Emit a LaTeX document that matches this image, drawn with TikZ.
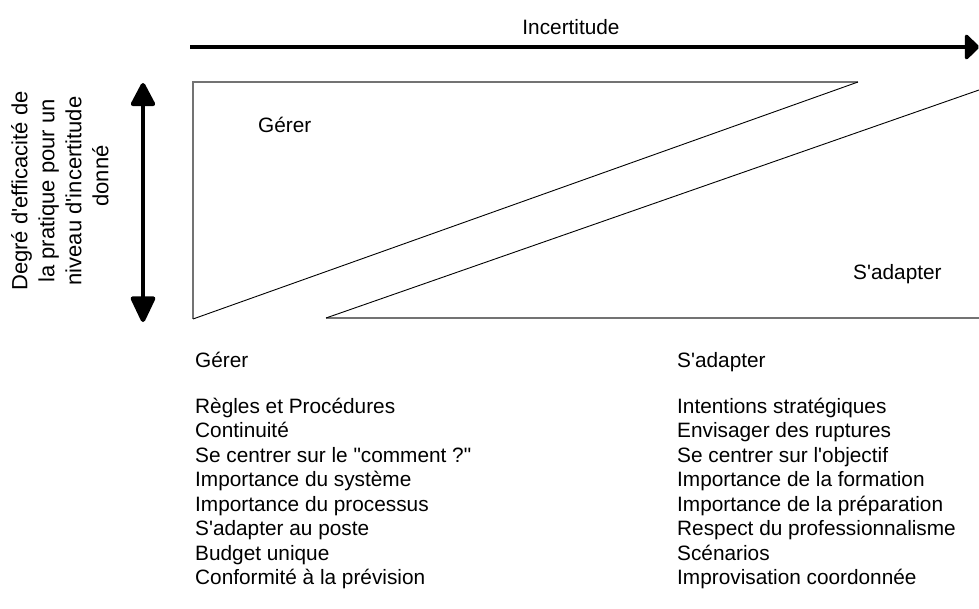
\documentclass[tikz,border=0pt]{standalone}
\usepackage{fontspec}
\setmainfont{Liberation Sans}[Ligatures=TeXOff]
\usetikzlibrary{positioning,arrows.meta}

\begin{document}
\begin{tikzpicture}[x=1pt,y=-1pt,
				txt/.style={font=\fontsize{20.8}{24}\selectfont,inner sep=0pt,anchor=base west},
				edge/.style={draw=black!55,line width=1.3pt},
				slope/.style={draw=black,line width=0.9pt},
				axis/.style={line width=3.6pt}]
				\useasboundingbox (0,0) rectangle (979,608);
				% axes
				\coordinate (IncStart) at (190,47);
				\coordinate (IncEnd) at (979,47);
				\draw[axis,-{Triangle[length=15pt,width=29pt,round]}] (IncStart) -- (IncEnd);
				\node[txt,anchor=base] (Incertitude) at (571,34) {Incertitude};
				\coordinate (EffTop) at (143,83);
				\coordinate (EffBottom) at (143,322);
				\draw[axis,line width=4.5pt,{Triangle[length=26pt,width=26pt,round]}-{Triangle[length=29pt,width=26pt,round]}] (EffTop) -- (EffBottom);
				\node[font=\fontsize{22}{27}\selectfont,align=center,rotate=90,inner sep=0pt] (Efficacite) at (60,191)
				  {Degré d'efficacité de\\la pratique pour un\\niveau d'incertitude\\\hspace*{30pt}donné};
				% triangles
				\coordinate (GTop) at (193,82);
				\coordinate (GRight) at (858,82);
				\coordinate (GBottom) at (193,319);
				\draw[edge] (GRight) -- (GTop) -- (GBottom);
				\draw[slope] (GBottom) -- (GRight);
				\coordinate (ALeft) at (326,318);
				\coordinate (ARight) at (979,318);
				\coordinate (ATop) at (979,90);
				\draw[edge] (ALeft) -- (ARight);
				\draw[slope] (ALeft) -- (ATop);
				\node[txt] (GererZone) at (258,132) {Gérer};
				\node[txt] (AdapterZone) at (853,279) {S'adapter};
				% listes
				\node[txt] (Gerer) at (195,367) {Gérer};
				\node[txt] (Adapter) at (677,367) {S'adapter};
				\foreach \item [count=\i] in {Règles et Procédures,Continuité,Se centrer sur le "comment ?",
				  Importance du système,Importance du processus,S'adapter au poste,Budget unique,Conformité à la prévision}
				  \node[txt] (Gerer\i) at (195,388.5+24.5*\i) {\item};
				\foreach \item [count=\i] in {Intentions stratégiques,Envisager des ruptures,Se centrer sur l'objectif,
				  Importance de la formation,Importance de la préparation,Respect du professionnalisme,Scénarios,Improvisation coordonnée}
				  \node[txt] (Adapter\i) at (677,388.5+24.5*\i) {\item};
			  \end{tikzpicture}
\end{document}
